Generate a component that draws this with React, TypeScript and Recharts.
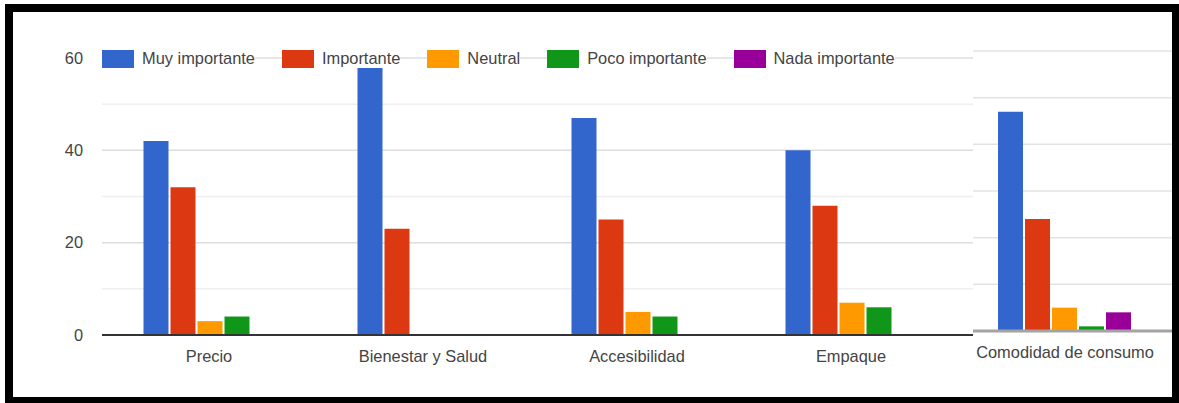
import React from "react";
import { BarChart, Bar, XAxis, YAxis, CartesianGrid } from "recharts";

// Survey answers (81 respondents) per purchase factor
const CATEGORIES = ["Precio", "Bienestar y Salud", "Accesibilidad", "Empaque", "Comodidad de consumo"];
const MUY_IMPORTANTE = [42, 58, 47, 40, 47];
const IMPORTANTE = [32, 23, 25, 28, 24];
const NEUTRAL = [3, 0, 5, 7, 5];
const POCO_IMPORTANTE = [4, 0, 4, 6, 1];
const NADA_IMPORTANTE = [0, 0, 0, 0, 4];

const Y_TICKS = [0, 20, 40, 60];
const MINOR_LINES = [10, 30, 50];
const MAJOR_LINES = [20, 40, 60];
const SIDE_LINES = [10, 20, 30, 40, 50, 60];

const SERIES = [
  { key: "muy", name: "Muy importante", color: "#3366cc", values: MUY_IMPORTANTE },
  { key: "imp", name: "Importante", color: "#dc3912", values: IMPORTANTE },
  { key: "neu", name: "Neutral", color: "#ff9900", values: NEUTRAL },
  { key: "poco", name: "Poco importante", color: "#109618", values: POCO_IMPORTANTE },
  { key: "nada", name: "Nada importante", color: "#990099", values: NADA_IMPORTANTE },
];

const rows = CATEGORIES.map((name, i) => {
  const row: Record<string, string | number> = { name };
  SERIES.forEach((s) => {
    row[s.key] = s.values[i];
  });
  return row;
});

// the last group is drawn in its own side panel
const SIDE_CATEGORY = CATEGORIES[CATEGORIES.length - 1];

const FONT = '"Liberation Sans", Arial, sans-serif';
const TEXT = "#444";
const tickStyle = { fontSize: 16.4, fill: TEXT, fontFamily: FONT };

function ChartLegend() {
  return (
    <div
      style={{
        position: "absolute",
        left: 102,
        top: 49,
        height: 19,
        display: "flex",
        alignItems: "center",
        fontFamily: FONT,
        fontSize: 16.4,
        color: TEXT,
        lineHeight: "19px",
      }}
    >
      {SERIES.map((s, i) => (
        <div key={s.key} style={{ display: "flex", alignItems: "center", marginLeft: i === 0 ? 0 : 27 }}>
          <span style={{ width: 32, height: 18, background: s.color, display: "inline-block" }} />
          <span style={{ background: "#fff", paddingLeft: 8, whiteSpace: "nowrap" }}>{s.name}</span>
        </div>
      ))}
    </div>
  );
}

export default function App() {
  const sideRows = rows.filter((r) => r.name === SIDE_CATEGORY);
  return (
    <div style={{ position: "fixed", left: 0, top: 0, width: 1179, height: 403, background: "#fff", overflow: "hidden" }}>
      <div style={{ position: "absolute", left: 0, top: 0 }}>
        <BarChart
          width={1179}
          height={403}
          data={rows}
          margin={{ top: 58, right: 7, bottom: 38, left: 42 }}
          barCategoryGap={41.5}
          barGap={2}
        >
          <CartesianGrid vertical={false} horizontalValues={MINOR_LINES} stroke="#efefef" strokeWidth={1.5} />
          <CartesianGrid vertical={false} horizontalValues={MAJOR_LINES} stroke="#dedede" strokeWidth={1.5} />
          <XAxis
            dataKey="name"
            height={30}
            tickLine={false}
            tickSize={0}
            tickMargin={15}
            tick={tickStyle}
            tickFormatter={(v: string) => (v === SIDE_CATEGORY ? "" : v)}
            stroke="#333"
            strokeWidth={2}
            interval={0}
          />
          <YAxis
            width={60}
            domain={[0, 60]}
            ticks={Y_TICKS}
            axisLine={false}
            tickLine={false}
            tickSize={0}
            tickMargin={19}
            tick={tickStyle}
          />
          {SERIES.map((s) => (
            <Bar key={s.key} dataKey={s.key} name={s.name} fill={s.color} isAnimationActive={false} />
          ))}
        </BarChart>
      </div>

      <ChartLegend />

      {/* last group sits in its own panel with a slightly shifted scale */}
      <div
        style={{
          position: "absolute",
          left: 973,
          top: 12,
          width: 199,
          height: 385,
          overflow: "hidden",
          background: "#fff",
        }}
      >
        <div style={{ position: "absolute", left: -15, top: -12 }}>
          <BarChart
            width={214}
            height={403}
            data={sideRows}
            margin={{ top: 51, right: 0, bottom: 42, left: 0 }}
            barCategoryGap={40}
            barGap={2}
          >
            <CartesianGrid vertical={false} horizontalValues={SIDE_LINES} stroke="#e3e3e3" strokeWidth={1.5} />
            <XAxis
              dataKey="name"
              height={30}
              tickLine={false}
              tickSize={0}
              tickMargin={15}
              tick={tickStyle}
              stroke="#a3a3a3"
              strokeWidth={3}
              interval={0}
            />
            <YAxis hide width={0} domain={[0, 60]} />
            {SERIES.map((s) => (
              <Bar key={s.key} dataKey={s.key} name={s.name} fill={s.color} isAnimationActive={false} />
            ))}
          </BarChart>
        </div>
      </div>

      <div
        style={{
          position: "absolute",
          left: 5,
          top: 4,
          width: 1174,
          height: 399,
          boxSizing: "border-box",
          borderStyle: "solid",
          borderColor: "#000",
          borderWidth: "8px 7px 6px 8px",
          pointerEvents: "none",
        }}
      />
    </div>
  );
}
